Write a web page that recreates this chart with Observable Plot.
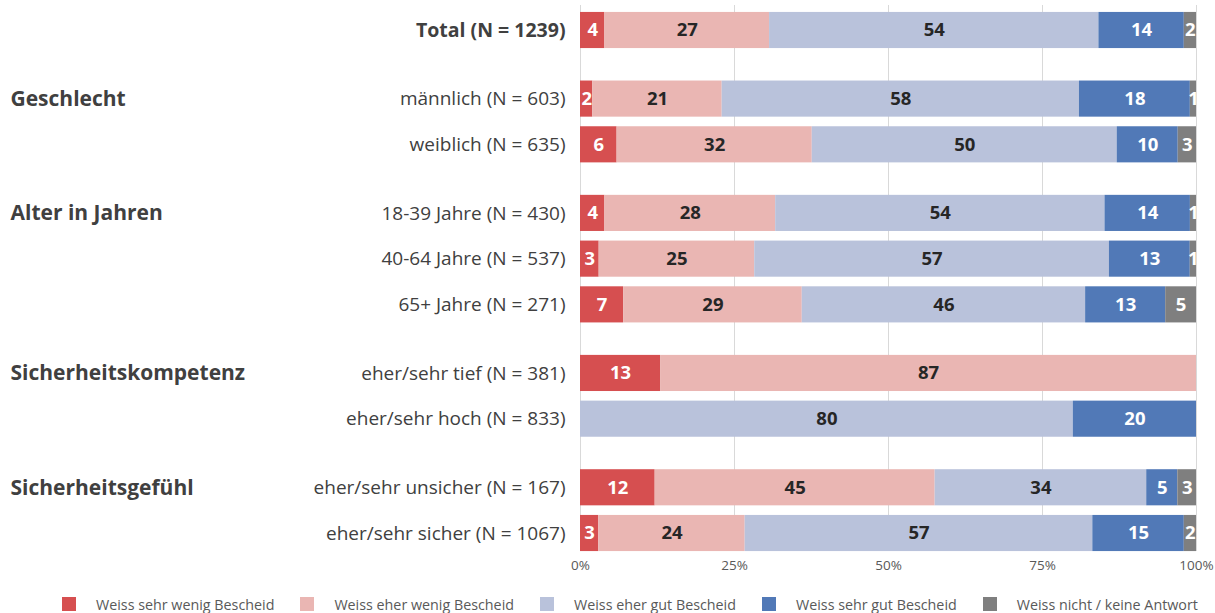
<!DOCTYPE html>
<html><head><meta charset="utf-8">
<script src="https://cdn.jsdelivr.net/npm/d3@7"></script>
<script src="https://cdn.jsdelivr.net/npm/@observablehq/plot@0.6"></script>
<style>
body{margin:0;background:#fff;font-family:"Open Sans",sans-serif;}
#legend{display:flex;align-items:center;height:38px;padding-left:62px;font-size:14.3px;color:#595959;white-space:nowrap;}
.item{display:flex;align-items:center;margin-right:26px;}
.sw{width:14px;height:14px;margin-right:20px;}
</style></head><body>
<div id="chart"></div><div id="legend"></div>
<script>
const categories = ["Weiss sehr wenig Bescheid","Weiss eher wenig Bescheid","Weiss eher gut Bescheid","Weiss sehr gut Bescheid","Weiss nicht / keine Antwort"];
const colors = ["#d64f50","#eab6b3","#b9c2db","#5179b7","#7f7f7f"];
const rowLabels = ["Total (N = 1239)","männlich (N = 603)","weiblich (N = 635)","18-39 Jahre (N = 430)","40-64 Jahre (N = 537)","65+ Jahre (N = 271)","eher/sehr tief (N = 381)","eher/sehr hoch (N = 833)","eher/sehr unsicher (N = 167)","eher/sehr sicher (N = 1067)"];
const rowGroups = ["Total","Geschlecht","Geschlecht","Alter in Jahren","Alter in Jahren","Alter in Jahren","Sicherheitskompetenz","Sicherheitskompetenz","Sicherheitsgefühl","Sicherheitsgefühl"];
const sehrWenig  = [4,2,6,4,3,7,13,0,12,3];
const eherWenig  = [27,21,32,28,25,29,87,0,45,24];
const eherGut    = [54,58,50,54,57,46,0,80,34,57];
const sehrGut    = [14,18,10,14,13,13,0,20,5,15];
const weissNicht = [2,1,3,1,1,5,0,0,3,2];
const series = [sehrWenig,eherWenig,eherGut,sehrGut,weissNicht];
const whiteText = new Set([categories[0],categories[3],categories[4]]);

const pos = []; let p = 0;
rowLabels.forEach((r,i)=>{ if(i>0) p += rowGroups[i]!==rowGroups[i-1] ? 1.5 : 1; pos.push(p); });

const segs = [];
rowLabels.forEach((r,i)=>{
  const tot = d3.sum(series, s=>s[i]); let c = 0;
  series.forEach((s,k)=>{ const v = s[i]; if(v>0) segs.push({row:r,pos:pos[i],cat:categories[k],v,x1:c/tot,x2:(c+v)/tot}); c += v; });
});
const rows = rowLabels.map((r,i)=>({label:r,group:rowGroups[i],pos:pos[i]}));
const headers = rows.filter((d,i)=> d.group!=="Total" && (i===0 || rows[i-1].group!==d.group));
const half = 0.395;
const tickVals = [0,0.25,0.5,0.75,1];

const chart = Plot.plot({
  width:1215, height:585, marginLeft:580, marginRight:19, marginTop:5, marginBottom:34,
  style:{fontFamily:"Open Sans", background:"white"},
  x:{domain:[0,1]},
  y:{domain:d3.extent(pos), range:[30,533], axis:null},
  color:{domain:categories, range:colors},
  marks:[
    Plot.gridX(tickVals,{stroke:"#d9d9d9", strokeOpacity:1}),
    Plot.axisX(tickVals,{tickFormat:d3.format(".0%"), tickSize:0, tickPadding:9, fontSize:13.5, fill:"#595959", label:null}),
    Plot.rect(segs,{x1:"x1",x2:"x2",y1:d=>d.pos-half,y2:d=>d.pos+half,fill:"cat"}),
    Plot.text(segs.filter(d=>whiteText.has(d.cat)),{x:d=>(d.x1+d.x2)/2,y:"pos",text:d=>String(d.v),fill:"white",fontWeight:"bold",fontSize:18.5}),
    Plot.text(segs.filter(d=>!whiteText.has(d.cat)),{x:d=>(d.x1+d.x2)/2,y:"pos",text:d=>String(d.v),fill:"#262626",fontWeight:"bold",fontSize:18.5}),
    Plot.text(rows.filter(d=>d.group!=="Total"),{x:0,y:"pos",text:"label",textAnchor:"end",dx:-15,fontSize:19,fill:"#404040"}),
    Plot.text(rows.filter(d=>d.group==="Total"),{x:0,y:"pos",text:"label",textAnchor:"end",dx:-15,fontSize:19.5,fontWeight:"bold",fill:"#404040"}),
    Plot.text(headers,{x:0,y:"pos",text:"group",textAnchor:"start",dx:-570,fontSize:21,fontWeight:"bold",fill:"#404040"})
  ]
});
document.getElementById("chart").appendChild(chart);

const legend = document.getElementById("legend");
categories.forEach((c,i)=>{
  const it = document.createElement("div"); it.className="item";
  const sw = document.createElement("div"); sw.className="sw"; sw.style.background = colors[i];
  const tx = document.createElement("span"); tx.textContent = c;
  it.appendChild(sw); it.appendChild(tx); legend.appendChild(it);
});
</script>
</body></html>
